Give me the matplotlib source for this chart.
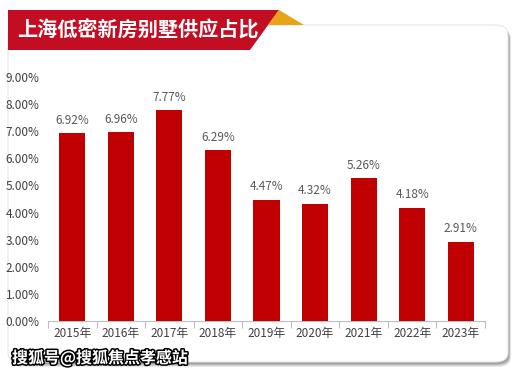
import matplotlib.pyplot as plt
import matplotlib.patheffects as pe
from matplotlib.patches import FancyBboxPatch, Polygon

plt.rcParams['font.family'] = ['Noto Sans CJK SC', 'DejaVu Sans']

years = ['2015年', '2016年', '2017年', '2018年', '2019年', '2020年', '2021年', '2022年', '2023年']
shares = [6.92, 6.96, 7.77, 6.29, 4.47, 4.32, 5.26, 4.18, 2.91]
yticks = [0, 1, 2, 3, 4, 5, 6, 7, 8, 9]

W, H = 523, 377
fig = plt.figure(figsize=(W / 100, H / 100), dpi=100)
fig.patch.set_facecolor('white')

def fx(px):
    return px / W

def fy(py):
    return 1 - py / H

# card with a soft shadow (a few faint layers)
for off, a in [(5, 0.12), (4, 0.15), (3, 0.2), (2, 0.25)]:
    sh = FancyBboxPatch((fx(8 + off * 0.6), fy(362 + off)), fx(500), fy(25) - fy(362),
                        boxstyle='round,pad=0,rounding_size=0.025',
                        transform=fig.transFigure, facecolor='#555555',
                        edgecolor='none', alpha=a, zorder=0)
    fig.patches.append(sh)
card = FancyBboxPatch((fx(8), fy(362)), fx(500), fy(25) - fy(362),
                      boxstyle='round,pad=0,rounding_size=0.025',
                      transform=fig.transFigure, facecolor='white',
                      edgecolor='#e6e6e6', linewidth=0.8, zorder=0.5)
fig.patches.append(card)

# title banner
banner = Polygon([(fx(8), fy(10)), (fx(279), fy(10)), (fx(250), fy(50)), (fx(8), fy(50))],
                 closed=True, transform=fig.transFigure, facecolor='#c30d23',
                 edgecolor='none', zorder=2)
tri = Polygon([(fx(279), fy(10)), (fx(304), fy(25)), (fx(268), fy(25))],
              closed=True, transform=fig.transFigure, facecolor='#e8a317',
              edgecolor='none', zorder=2)
fig.patches.extend([banner, tri])
fig.text(fx(17), fy(30), '上海低密新房别墅供应占比', color='white', fontsize=14.5,
         fontweight='bold', va='center', ha='left', zorder=3)

ax = fig.add_axes([fx(48), fy(321), fx(485) - fx(48), fy(77) - fy(321)])
ax.set_zorder(1)
ax.set_facecolor('none')
x = list(range(len(years)))
bars = ax.bar(x, shares, width=0.54, color='#c00000', zorder=3)
for xi, v in zip(x, shares):
    ax.text(xi, v + 0.25, f'{v:.2f}%', ha='center', va='bottom',
            fontsize=8.5, color='#595959')

ax.set_xlim(-0.5, len(years) - 0.5)
ax.set_ylim(0, 9)
ax.set_yticks(yticks)
ax.set_yticklabels([f'{t:.2f}%' for t in yticks], fontsize=8.5, color='#404040')
ax.set_xticks(x)
ax.set_xticklabels(years, fontsize=8.5, color='#404040')
ax.tick_params(axis='y', length=0, pad=6)
ax.tick_params(axis='x', length=0, pad=4)
ax.set_xticks([i - 0.5 for i in range(len(years) + 1)], minor=True)
ax.tick_params(axis='x', which='minor', length=5, color='#bfbfbf', width=0.8)
for s in ['top', 'right', 'left']:
    ax.spines[s].set_visible(False)
ax.spines['bottom'].set_color('#bfbfbf')
ax.spines['bottom'].set_linewidth(0.8)

fig.text(fx(12), fy(358), '搜狐号@搜狐焦点孝感站', color='white', fontsize=11.5,
         fontweight='bold', va='center', ha='left', zorder=5,
         path_effects=[pe.withStroke(linewidth=2.2, foreground='black')])

fig.savefig('out.png', dpi=100)
